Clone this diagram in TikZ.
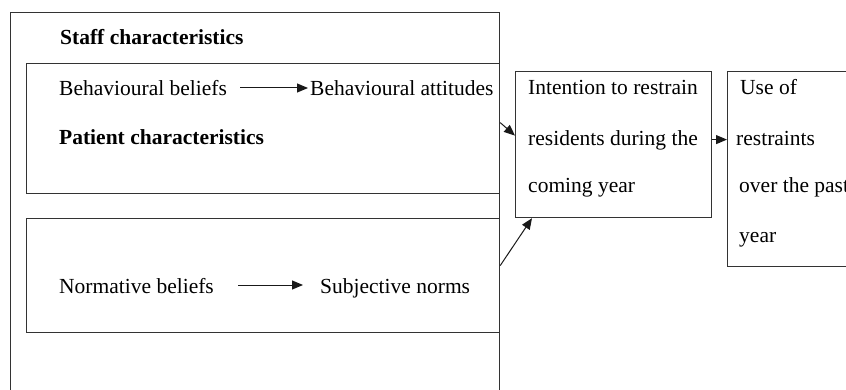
\documentclass[tikz,border=0pt]{standalone}
\usepackage{fontspec}
\setmainfont{Liberation Serif}
\usetikzlibrary{arrows.meta,calc}
\begin{document}
\begin{tikzpicture}[x=1pt,y=-1pt,
  box/.style={draw=black!80,line width=1.2pt,anchor=north west,inner sep=0pt},
  txt/.style={anchor=base west,inner sep=0pt,font=\fontsize{21.5}{26}\selectfont},
  bold/.style={txt,font=\fontsize{21.5}{26}\selectfont\bfseries},
  arr/.style={draw=black!90,line width=1pt,-{Triangle[length=11pt,width=9pt]}}]
\useasboundingbox (0,0) rectangle (846,390);
\clip (0,0) rectangle (846,390);
% boxes
\node[box,minimum width=489pt,minimum height=400pt] (outer) at (10,12) {};
\node[box,minimum width=473pt,minimum height=130pt] (staff) at (26,63) {};
\node[box,minimum width=473pt,minimum height=114pt] (norm) at (26,218) {};
\node[box,minimum width=196pt,minimum height=146pt] (intention) at (515,71) {};
\node[box,minimum width=143pt,minimum height=195pt] (use) at (727,71) {};
% texts
\node[bold] (sc) at (60,45) {Staff characteristics};
\node[txt] (bb) at (59,96) {Behavioural beliefs};
\node[txt] (ba) at (310,96) {Behavioural attitudes};
\node[bold] (pc) at (59,145) {Patient characteristics};
\node[txt] (nb) at (59,293) {Normative beliefs};
\node[txt] (sn) at (320,293) {Subjective norms};
\node[txt] (i1) at (528,95) {Intention to restrain};
\node[txt] (i2) at (528,146) {residents during the};
\node[txt] (i3) at (528,193) {coming year};
\node[txt] (u1) at (740,95) {Use of};
\node[txt] (u2) at (736,146) {restraints};
\node[txt] (u3) at (739,193) {over the past};
\node[txt] (u4) at (739,243) {year};
% arrows
\draw[arr] ([xshift=13pt,yshift=8pt]bb.base east) -- ([xshift=-2pt,yshift=8pt]ba.base west);
\draw[arr] ([xshift=24pt,yshift=8pt]nb.base east) -- ([xshift=-17pt,yshift=8pt]sn.base west);
\draw[arr] ([yshift=6pt]staff.east) -- ([yshift=9pt]intention.west);
\draw[arr] ([yshift=10pt]norm.east) -- ([xshift=17pt]intention.south west);
\draw[arr] ([yshift=5pt]intention.east) coordinate (a) -- (a -| use.west);
\end{tikzpicture}
\end{document}
